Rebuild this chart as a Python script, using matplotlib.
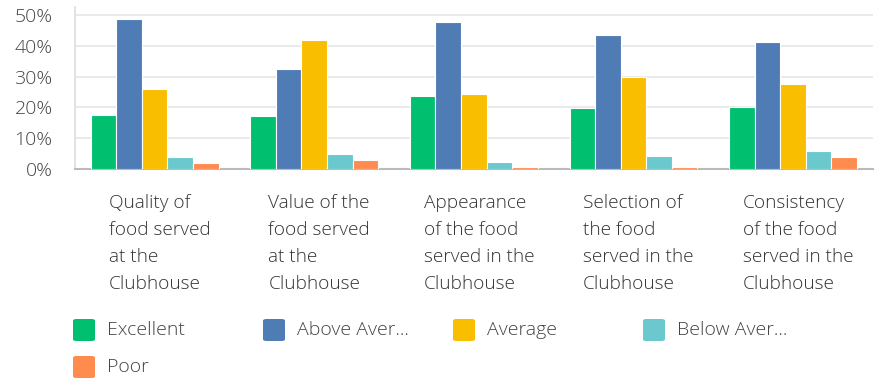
import numpy as np
import matplotlib
matplotlib.use("Agg")
import matplotlib.pyplot as plt
import matplotlib.transforms as mtransforms
from matplotlib.patches import FancyBboxPatch
from matplotlib.ticker import PercentFormatter

# data (percent)
categories = [
    "Quality of\nfood served\nat the\nClubhouse",
    "Value of the\nfood served\nat the\nClubhouse",
    "Appearance\nof the food\nserved in the\nClubhouse",
    "Selection of\nthe food\nserved in the\nClubhouse",
    "Consistency\nof the food\nserved in the\nClubhouse",
]
series_names = ["Excellent", "Above Aver...", "Average", "Below Aver...", "Poor"]
excellent = [17.5, 17.2, 23.8, 19.7, 20.2]
above_average = [48.8, 32.4, 47.6, 43.5, 41.3]
average = [26.1, 41.9, 24.4, 29.8, 27.6]
below_average = [3.8, 5.0, 2.3, 4.3, 5.8]
poor = [1.8, 2.8, 0.6, 0.6, 3.8]
colors = ["#00BF6F", "#507CB6", "#F9BE00", "#6BC8CD", "#FF8B4F"]

plt.rcParams['font.family'] = ['Open Sans', 'DejaVu Sans']
plt.rcParams['font.weight'] = 'light'

fig = plt.figure(figsize=(8.85, 3.87), dpi=100)
ax = fig.add_axes([0.0847, 0.5633, 0.9013, 0.418])

series = [excellent, above_average, average, below_average, poor]
x = np.arange(len(categories))
bw = 0.16
for i, vals in enumerate(series):
    ax.bar(x + (i - 2) * bw, vals, width=bw, color=colors[i],
           edgecolor="white", linewidth=0.8, zorder=3)

ax.set_xlim(-0.5, len(categories) - 0.5)
ax.set_ylim(0, 52.5)
ax.set_yticks([0, 10, 20, 30, 40, 50])
ax.yaxis.set_major_formatter(PercentFormatter(decimals=0))
ax.grid(axis="y", color="#e6e6e6", linewidth=1.2, zorder=0)

ax.set_xticks(x)
ax.set_xticklabels(categories, ha="center", multialignment="left",
                   linespacing=1.65, fontsize=13.7, color="#333333")
ax.tick_params(axis="x", length=0, pad=18)
ax.tick_params(axis="y", length=0, pad=16, labelsize=14, labelcolor="#444444")

# labels sit a little right of the group centre
shift = mtransforms.ScaledTranslation(5 / 100, 0, fig.dpi_scale_trans)
for lbl in ax.get_xticklabels():
    lbl.set_transform(lbl.get_transform() + shift)

for s in ["top", "right"]:
    ax.spines[s].set_visible(False)
ax.spines["left"].set_color("#dddddd")
ax.spines["left"].set_linewidth(1.2)
ax.spines["bottom"].set_color("#bbbbbb")
ax.spines["bottom"].set_linewidth(1.5)

# legend drawn by hand: 4 columns, rounded swatches
W, H = 885.0, 387.0
col_x = [73, 263, 453, 643]
row_y = [330, 367]
sw = 22
for i, name in enumerate(series_names):
    cx = col_x[i % 4]
    cy = row_y[i // 4]
    box = FancyBboxPatch(((cx) / W, 1 - (cy + sw / 2) / H), sw / W, sw / H,
                         boxstyle="round,pad=0,rounding_size=0.004",
                         transform=fig.transFigure, facecolor=colors[i],
                         edgecolor="none")
    fig.patches.append(box)
    fig.text((cx + sw + 12) / W, 1 - cy / H, name, fontsize=14,
             color="#444444", va="center", ha="left")

fig.savefig("out.png", dpi=100)
